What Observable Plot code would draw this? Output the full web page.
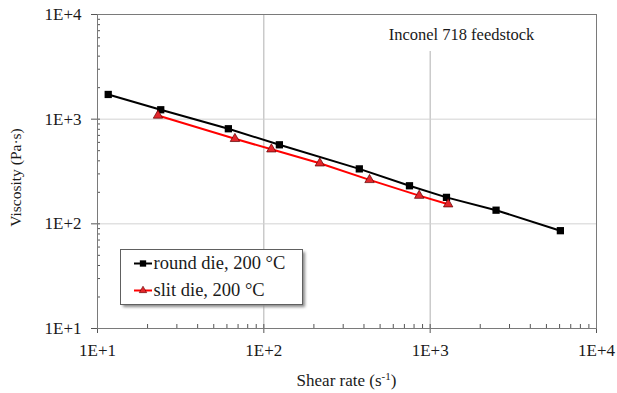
<!DOCTYPE html>
<html><head><meta charset="utf-8">
<script src="https://cdn.jsdelivr.net/npm/d3@7"></script>
<script src="https://cdn.jsdelivr.net/npm/@observablehq/plot@0.6"></script>
<style>
body{margin:0;background:#fff}
#chart{position:relative;width:617px;height:393px}
</style></head><body><div id="chart"></div>
<script>
// ---- data ----
const roundShear = [11.6, 24.0, 61.2, 124, 375, 751, 1253, 2490, 6065];
const roundVisc  = [1722, 1230, 810, 569, 335, 231, 179, 135, 86];
const slitShear  = [23.1, 67, 111, 217, 432, 859, 1283];
const slitVisc   = [1085, 649, 516, 379, 263, 186, 154];
const majorTicks = [10, 100, 1000, 10000];
const tickLabels = ["1E+1", "1E+2", "1E+3", "1E+4"];
const minorMultipliers = [2, 3, 4, 5, 6, 7, 8, 9];
const seriesNames = ["round die, 200 °C", "slit die, 200 °C"];
const titleText = "Inconel 718 feedstock";
const xLabelMain = "Shear rate (s", xLabelSup = "-1", xLabelEnd = ")";
const yLabel = "Viscosity (Pa·s)";

const minorTicks = majorTicks.slice(0, -1).flatMap(d => minorMultipliers.map(m => d * m));
const round = roundShear.map((x, i) => ({x, y: roundVisc[i]}));
const slit = slitShear.map((x, i) => ({x, y: slitVisc[i]}));

const FONT = "'Liberation Serif', 'DejaVu Serif', serif";
const BLACK = "#000000", RED = "#ff0000", TRI = "#e3262b";
const TXT = "#1a1a1a";

const plot = Plot.plot({
  width: 617, height: 393,
  marginLeft: 97, marginRight: 21, marginTop: 14, marginBottom: 65,
  style: {fontFamily: FONT, fontSize: "16px", color: TXT, background: "white", overflow: "visible"},
  x: {type: "log", domain: [10, 10000]},
  y: {type: "log", domain: [10, 10000]},
  marks: [
    Plot.gridX(majorTicks, {stroke: "#b0b0b0", strokeOpacity: 1}),
    Plot.gridY(majorTicks, {stroke: "#d2d2d2", strokeOpacity: 1}),
    Plot.axisX(minorTicks, {tickSize: -4, tickFormat: () => "", label: null, stroke: "#555"}),
    Plot.axisY(minorTicks, {tickSize: -3, tickFormat: () => "", label: null, stroke: "#555"}),
    Plot.axisX(majorTicks, {tickSize: -4, tickFormat: () => "", label: null, stroke: "#555"}),
    Plot.axisY(majorTicks, {tickSize: -3, tickFormat: () => "", label: null, stroke: "#555"}),
    Plot.axisX(majorTicks, {tickSize: 5, tickPadding: 10, fontSize: 17, fill: TXT, tickFormat: d => tickLabels[majorTicks.indexOf(d)], label: null, stroke: "#555"}),
    Plot.axisY(majorTicks, {tickSize: 6, tickPadding: 10, fontSize: 17, fill: TXT, tickFormat: d => tickLabels[majorTicks.indexOf(d)], label: null, stroke: "#555"}),
    Plot.frame({stroke: "#7a7a7a"}),
    Plot.line(round, {x: "x", y: "y", stroke: BLACK, strokeWidth: 2}),
    Plot.dot(round, {x: "x", y: "y", symbol: "square", r: 4.1, fill: BLACK, stroke: "none"}),
    Plot.line(slit, {x: "x", y: "y", stroke: RED, strokeWidth: 2}),
    Plot.dot(slit, {x: "x", y: "y", symbol: "triangle", r: 3.5, fill: TRI, stroke: "#5a0000", strokeWidth: 0.7})
  ]
});
document.getElementById("chart").appendChild(plot);

const svg = d3.select(plot);
const pLeft = 97, pRight = 596, pTop = 14, pBottom = 328;

// title with white backing box
svg.append("rect").attr("x", 385).attr("y", pTop + 1).attr("width", 154).attr("height", 36).attr("fill", "white");
svg.append("text").attr("x", 461.5).attr("y", 40).attr("text-anchor", "middle")
  .attr("font-family", FONT).attr("font-size", 16.5).attr("fill", TXT).text(titleText);

// axis labels
const xl = svg.append("text").attr("x", (pLeft + pRight) / 2).attr("y", 386).attr("text-anchor", "middle")
  .attr("font-family", FONT).attr("font-size", 17).attr("fill", TXT);
xl.append("tspan").text(xLabelMain);
xl.append("tspan").attr("baseline-shift", "super").attr("font-size", 11).text(xLabelSup);
xl.append("tspan").text(xLabelEnd);
svg.append("text").attr("transform", "translate(21,177.5) rotate(-90)").attr("text-anchor", "middle")
  .attr("font-family", FONT).attr("font-size", 15.5).attr("fill", TXT).text(yLabel);

// legend
const defs = svg.append("defs");
const f = defs.append("filter").attr("id", "sh").attr("x", "-10%").attr("y", "-10%").attr("width", "130%").attr("height", "140%");
f.append("feGaussianBlur").attr("stdDeviation", 1.5);
const lg = svg.append("g");
lg.append("rect").attr("x", 123).attr("y", 252).attr("width", 182).attr("height", 55).attr("fill", "#888").attr("filter", "url(#sh)");
lg.append("rect").attr("x", 120.5).attr("y", 249.5).attr("width", 182).attr("height", 55).attr("fill", "white").attr("stroke", "#606060");
const rows = [
  {name: seriesNames[0], color: BLACK, y: 263.5, sym: d3.symbolSquare, size: 40, fill: BLACK, stroke: "none"},
  {name: seriesNames[1], color: RED, y: 290.5, sym: d3.symbolTriangle, size: 24, fill: TRI, stroke: "#5a0000"}
];
for (const r of rows) {
  lg.append("line").attr("x1", 134).attr("x2", 152).attr("y1", r.y).attr("y2", r.y).attr("stroke", r.color).attr("stroke-width", 2);
  lg.append("path").attr("d", d3.symbol(r.sym, r.size)()).attr("transform", `translate(143,${r.y})`)
    .attr("fill", r.fill).attr("stroke", r.stroke).attr("stroke-width", 0.6);
  lg.append("text").attr("x", 153.5).attr("y", r.y + 5).attr("text-anchor", "start").attr("font-family", FONT).attr("font-size", 18.5)
    .attr("fill", TXT).text(r.name);
}
</script></body></html>
